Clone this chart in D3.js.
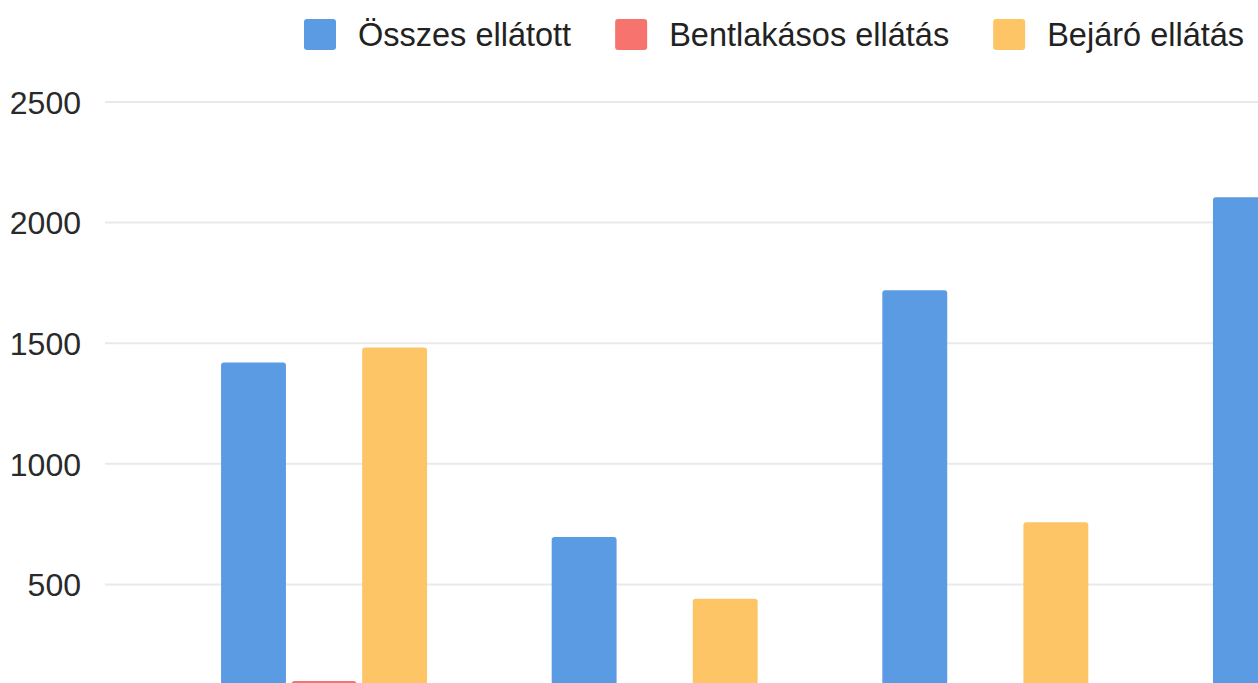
<!DOCTYPE html>
<html>
<head>
<meta charset="utf-8">
<script src="https://cdn.jsdelivr.net/npm/d3@7"></script>
<style>
  html, body { margin: 0; padding: 0; background: #fff; overflow: hidden; }
  text { font-family: "Liberation Sans", Arial, sans-serif; fill: #222; }
</style>
</head>
<body>
<div id="chart"></div>
<script>
// adatok (az x tengely feliratai a képen kívül esnek)
const categories = ['1. csoport', '2. csoport', '3. csoport', '4. csoport'];
const seriesNames = ['Összes ellátott', 'Bentlakásos ellátás', 'Bejáró ellátás'];
const osszes = [1420, 697, 1720, 2105];
const bentlakasos = [100, 40, 60, 80];
const bejaro = [1482, 440, 758, 1300];
const yTicks = [500, 1000, 1500, 2000, 2500];

const colors = ['#5b9be3', '#f7736d', '#fec567'];

const width = 1258, height = 683;
const plot = { left: 105, right: 1535, top: 102, bottom: 705 };

const svg = d3.select('#chart')
  .append('svg')
  .attr('width', width)
  .attr('height', height);

const x0 = d3.scaleBand()
  .domain(categories)
  .range([plot.left, plot.right])
  .paddingInner(0.377)
  .paddingOuter(0.351);

const x1 = d3.scaleBand()
  .domain(seriesNames)
  .range([0, x0.bandwidth()])
  .paddingInner(0.08);

const y = d3.scaleLinear()
  .domain([0, 2500])
  .range([plot.bottom, plot.top]);

// rácsvonalak
svg.append('g')
  .selectAll('line')
  .data(yTicks)
  .join('line')
  .attr('x1', plot.left).attr('x2', width)
  .attr('y1', d => y(d)).attr('y2', d => y(d))
  .style('stroke', '#e9e9e9')
  .style('stroke-width', 2);

// y tengely feliratai
const yAxis = d3.axisLeft(y)
  .tickValues(yTicks)
  .tickFormat(d3.format('d'))
  .tickSize(0).tickPadding(0);
const ya = svg.append('g')
  .attr('transform', 'translate(81,0)')
  .call(yAxis);
ya.select('.domain').remove();
ya.selectAll('text')
  .style('font-size', '32px')
  .style('font-family', '"Liberation Sans", Arial, sans-serif')
  .style('fill', '#2a2a2a')
  .attr('dy', '0.35em');

// oszlopok
const rows = categories.map((c, i) => ({
  cat: c,
  values: [osszes[i], bentlakasos[i], bejaro[i]]
}));

const rounded = (x, yTop, w, h, r) => {
  r = Math.min(r, h);
  return `M${x},${yTop + h}V${yTop + r}Q${x},${yTop} ${x + r},${yTop}` +
         `H${x + w - r}Q${x + w},${yTop} ${x + w},${yTop + r}V${yTop + h}Z`;
};

svg.append('g')
  .selectAll('g')
  .data(rows)
  .join('g')
  .attr('transform', d => `translate(${x0(d.cat)},0)`)
  .selectAll('path')
  .data(d => d.values.map((v, k) => ({ key: seriesNames[k], value: v, k })))
  .join('path')
  .attr('d', d => rounded(x1(d.key), y(d.value), x1.bandwidth(), y(0) - y(d.value), 3))
  .style('fill', d => colors[d.k]);

// jelmagyarázat
const legend = svg.append('g').attr('class', 'legend');
let lx = 304;
seriesNames.forEach((name, k) => {
  legend.append('rect')
    .attr('x', lx).attr('y', 19)
    .attr('width', 32).attr('height', 31)
    .attr('rx', 3)
    .style('fill', colors[k]);
  const t = legend.append('text')
    .attr('x', lx + 54).attr('y', 46)
    .style('font-size', '32.5px')
    .text(name);
  lx += 54 + t.node().getComputedTextLength() + 44;
});
</script>
</body>
</html>
